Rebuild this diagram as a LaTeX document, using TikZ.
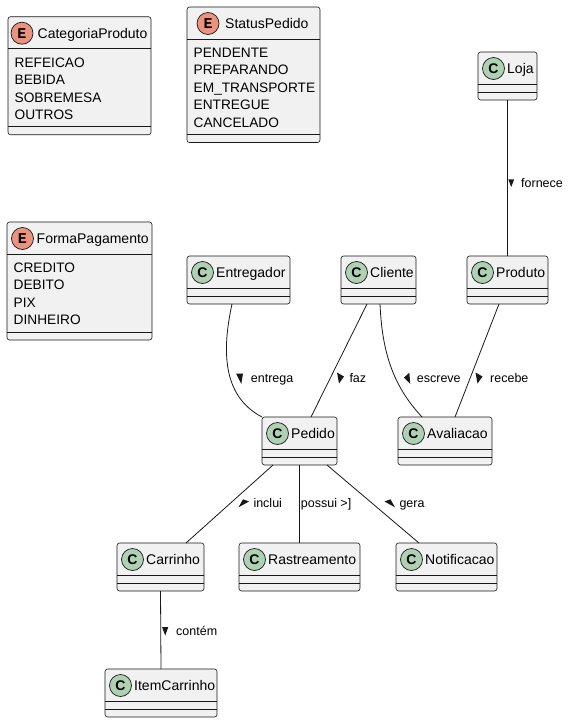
\documentclass[tikz,border=0pt]{standalone}
\usepackage{fontspec}
\setmainfont{Liberation Sans}
\newfontfamily\monofam{Liberation Mono}
\definecolor{boxfill}{HTML}{F1F1F1}
\definecolor{boxline}{HTML}{181818}
\definecolor{cgreen}{HTML}{ADD1B2}
\definecolor{eorange}{HTML}{EB937F}
\tikzset{
 umlbox/.style={draw=boxline, fill=boxfill, line width=0.6pt, rounded corners=2.5pt, inner sep=0pt, outer sep=0pt},
 sepline/.style={draw=boxline, line width=0.6pt},
 circ/.style={circle, draw=boxline, line width=0.7pt, minimum size=22pt, inner sep=0pt},
 ttl/.style={font=\fontsize{14}{16}\selectfont, inner sep=0pt, anchor=base west},
 mem/.style={font=\fontsize{13.7}{16}\selectfont, inner sep=0pt, anchor=base west},
 lbl/.style={font=\fontsize{12.5}{14}\selectfont, inner sep=0pt, anchor=base west},
 edge/.style={draw=boxline, line width=0.8pt},
 lbltip/.style={fill=boxline},
}
% id, left, top, right, title
\newcommand\umlcls[5]{%
 \pgfmathsetmacro\bw{#4-#2}%
 \node[umlbox, minimum width=\bw pt, minimum height=48pt, anchor=north west] (#1) at (#2,#3) {};
 \draw[sepline] ([yshift=-32pt]#1.north west) -- ([yshift=-32pt]#1.north east);
 \draw[sepline] ([yshift=-40pt]#1.north west) -- ([yshift=-40pt]#1.north east);
 \node[circ, fill=cgreen] (#1-c) at ([xshift=15.5pt,yshift=-16.5pt]#1.north west) {\fontsize{14}{14}\selectfont\bfseries C};
 \node[ttl] (#1-t) at ([xshift=29pt,yshift=-21.7pt]#1.north west) {#5};
}
% id, left, top, right, n, circle x offset, title x offset, title, members
\newcommand\umlenum[9]{%
 \pgfmathsetmacro\bw{#4-#2}%
 \pgfmathsetmacro\bh{48+#5*17.5}%
 \pgfmathsetmacro\sy{-(40+#5*17.5)}%
 \node[umlbox, minimum width=\bw pt, minimum height=\bh pt, anchor=north west] (#1) at (#2,#3) {};
 \draw[sepline] ([yshift=-32pt]#1.north west) -- ([yshift=-32pt]#1.north east);
 \draw[sepline] ([yshift=\sy pt]#1.north west) -- ([yshift=\sy pt]#1.north east);
 \node[circ, fill=eorange] (#1-c) at ([xshift=#6pt,yshift=-16.5pt]#1.north west) {\monofam\fontsize{15}{15}\selectfont\bfseries E};
 \node[ttl] (#1-t) at ([xshift=#7pt,yshift=-21.7pt]#1.north west) {#8};
 \foreach \m [count=\i] in {#9} {
  \pgfmathsetmacro\yy{-(50.3+(\i-1)*17.5)}
  \node[mem] (#1-m\i) at ([xshift=6.5pt,yshift=\yy pt]#1.north west) {\m};
 }
}
\begin{document}
\begin{tikzpicture}[x=1pt,y=-1pt]
\useasboundingbox (0,0) rectangle (570,723);
% enums
\umlenum{categoria}{8}{16.7}{151}{4}{14}{29.5}{CategoriaProduto}{REFEICAO,BEBIDA,SOBREMESA,OUTROS}
\umlenum{status}{187}{7}{320}{5}{21}{38}{StatusPedido}{PENDENTE,PREPARANDO,EM\_TRANSPORTE,ENTREGUE,CANCELADO}
\umlenum{forma}{7}{222}{152}{4}{15.5}{29.5}{FormaPagamento}{CREDITO,DEBITO,PIX,DINHEIRO}
% classes
\umlcls{loja}{478}{52}{537}{Loja}
\umlcls{entregador}{187}{256}{290}{Entregador}
\umlcls{cliente}{341}{256}{416}{Cliente}
\umlcls{produto}{467}{256}{548}{Produto}
\umlcls{pedido}{262}{417}{337}{Pedido}
\umlcls{avaliacao}{398}{417}{492}{Avaliacao}
\umlcls{carrinho}{117}{543}{204}{Carrinho}
\umlcls{rastreamento}{239}{543}{360}{Rastreamento}
\umlcls{notificacao}{396}{543}{497}{Notificacao}
\umlcls{itemcarrinho}{105}{669}{217}{ItemCarrinho}
% edges
\draw[edge] (loja.south) -- (produto.north);
\draw[edge] ([xshift=45pt]entregador.south west) .. controls +(-10,46) and +(-40,-21) .. (pedido.north west);
\draw[edge] ([xshift=26pt]cliente.south west) -- ([xshift=49pt]pedido.north west);
\draw[edge] ([xshift=39pt]cliente.south west) .. controls +(2,46) and +(-30,-32) .. ([xshift=24pt]avaliacao.north west);
\draw[edge] ([xshift=32pt]produto.south west) -- ([xshift=57pt]avaliacao.north west);
\draw[edge] ([xshift=11pt]pedido.south west) -- ([xshift=69pt]carrinho.north west);
\draw[edge] (pedido.south) -- (rastreamento.north);
\draw[edge] ([xshift=65pt]pedido.south west) -- ([xshift=23pt]notificacao.north west);
\draw[edge] (carrinho.south) -- (itemcarrinho.north);
% labels with their direction triangles
\fill[lbltip] (508.3,179.3) -- (514.2,179.3) -- (511.2,187) -- cycle;
\node[lbl] (l-fornece) at (521,187) {fornece};
\fill[lbltip] (236,373.5) -- (243,373.5) -- (241.3,384) -- cycle;
\node[lbl] (l-entrega) at (250.7,382) {entrega};
\fill[lbltip] (337,372.5) -- (344,376.5) -- (339,383.5) -- cycle;
\node[lbl] (l-faz) at (349.3,382) {faz};
\fill[lbltip] (404,377.7) -- (409.3,372.5) -- (410.3,384) -- cycle;
\node[lbl] (l-escreve) at (416.7,382) {escreve};
\fill[lbltip] (475.5,372.5) -- (482.5,376.5) -- (477.5,383.5) -- cycle;
\node[lbl] (l-recebe) at (490,382) {recebe};
\fill[lbltip] (249,501.5) -- (238.5,507.3) -- (243,499.3) -- cycle;
\node[lbl] (l-inclui) at (253.3,507) {inclui};
\node[lbl] (l-possui) at (300.7,507) {possui >]};
\fill[lbltip] (384.5,501.5) -- (395,507.3) -- (390.5,499.3) -- cycle;
\node[lbl] (l-gera) at (399.3,507) {gera};
\fill[lbltip] (162,627) -- (168.3,627) -- (165.2,635.5) -- cycle;
\node[lbl] (l-contem) at (176,635) {contém};
\end{tikzpicture}
\end{document}
